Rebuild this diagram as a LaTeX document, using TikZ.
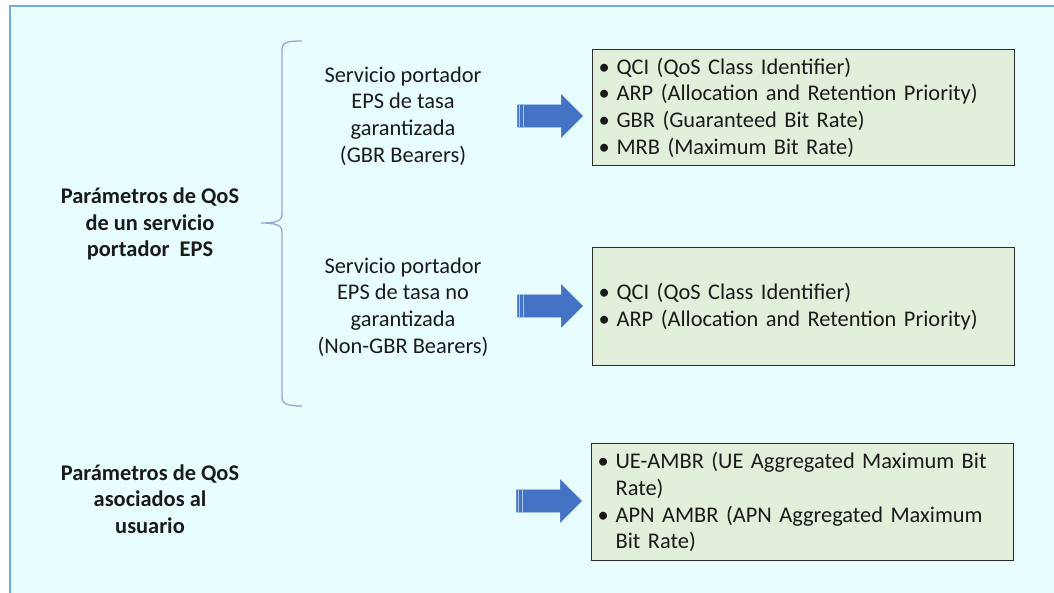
\documentclass[tikz,border=0pt]{standalone}
\usepackage{fontspec}
\setmainfont{Carlito}
\usepackage{tikz}
\usetikzlibrary{shapes.arrows}
\usetikzlibrary{positioning}

\definecolor{bgcyan}{HTML}{E8FEFE}
\definecolor{framblue}{HTML}{6FAEE0}
\definecolor{bracecol}{HTML}{8DA9DB}
\definecolor{arrowblue}{HTML}{4472C4}
\definecolor{boxgreen}{HTML}{E2EFDA}
\definecolor{boxgray}{HTML}{2E2E2E}
\definecolor{textgray}{HTML}{1A1A1A}

\newcommand{\bitem}{\makebox[18pt][l]{\textbullet}}
\newcommand{\bcont}{\hspace*{18pt}}

\begin{document}
\begin{tikzpicture}[x=1pt,y=-1pt,
  every node/.style={text=textgray,font=\fontsize{22.4}{26.6}\selectfont},
  title node/.style={align=center,font=\fontsize{22.4}{26.6}\selectfont\bfseries},
  bearer node/.style={align=center},
  list box/.style={anchor=north west,draw=boxgray,line width=1.2pt,fill=boxgreen,
    text width=410pt,inner xsep=6pt,inner ysep=0pt,align=left},
  block arrow/.style={single arrow,fill=arrowblue,draw=arrowblue,line width=0.4pt,
    minimum height=65pt,inner xsep=0pt,inner ysep=11pt,single arrow head extend=10pt}]

  \useasboundingbox (0,0) rectangle (1054,592);
  \clip (0,0) rectangle (1054,592);
  \fill[white] (0,0) rectangle (1054,592);
  \draw[framblue,fill=bgcyan,line width=2pt] (10,6) rectangle (1070,610);

  % left side
  \node[title node] (epsqos) at (150,224) {Parámetros de QoS\\de un servicio\\portador~~EPS};
  \node[title node] (ueqos) at (150,499) {Parámetros de QoS\\asociados al\\usuario};

  % brace
  \draw[bracecol,line width=1.3pt] (302,41) .. controls (288,41) and (282,42) .. (282,50)
    -- (282,214) .. controls (282,221) and (276,223) .. (261,223)
    .. controls (276,223) and (282,225) .. (282,232)
    -- (282,397) .. controls (282,404) and (288,406) .. (302,406);

  % bearer types
  \node[bearer node] (gbr) at (403,116) {Servicio portador\\EPS de tasa\\garantizada\\(GBR Bearers)};
  \node[bearer node] (nongbr) at (403,307) {Servicio portador\\EPS de tasa no\\garantizada\\(Non-GBR Bearers)};

  % arrows
  \node[block arrow] (arrgbr) at (544.5,116) {};
  \node[block arrow] (arrnongbr) at (544.5,306) {};
  \node[block arrow] (arrue) at (543.5,501) {};
  \foreach \a in {arrgbr,arrnongbr,arrue}
    \draw[bgcyan!60!arrowblue,line width=0.6pt]
      ([xshift=2pt]\a.tail) ++(0,-11) -- ++(0,22)
      ([xshift=6pt]\a.tail) ++(0,-11) -- ++(0,22);

  % parameter lists
  \node[list box,minimum height=116pt] (gbrlist) at (592,49)
    {\bitem QCI (QoS Class Identifier)\\
     \bitem ARP (Allocation and Retention Priority)\\
     \bitem GBR (Guaranteed Bit Rate)\\
     \bitem MRB (Maximum Bit Rate)};
  \node[list box,minimum height=118pt] (nongbrlist) at (592,247)
    {\bitem QCI (QoS Class Identifier)\\
     \bitem ARP (Allocation and Retention Priority)};
  \node[list box,minimum height=117pt] (uelist) at (591,443)
    {\bitem UE-AMBR (UE Aggregated Maximum Bit\\
     \bcont Rate)\\
     \bitem APN AMBR (APN Aggregated Maximum\\
     \bcont Bit Rate)};
\end{tikzpicture}
\end{document}
